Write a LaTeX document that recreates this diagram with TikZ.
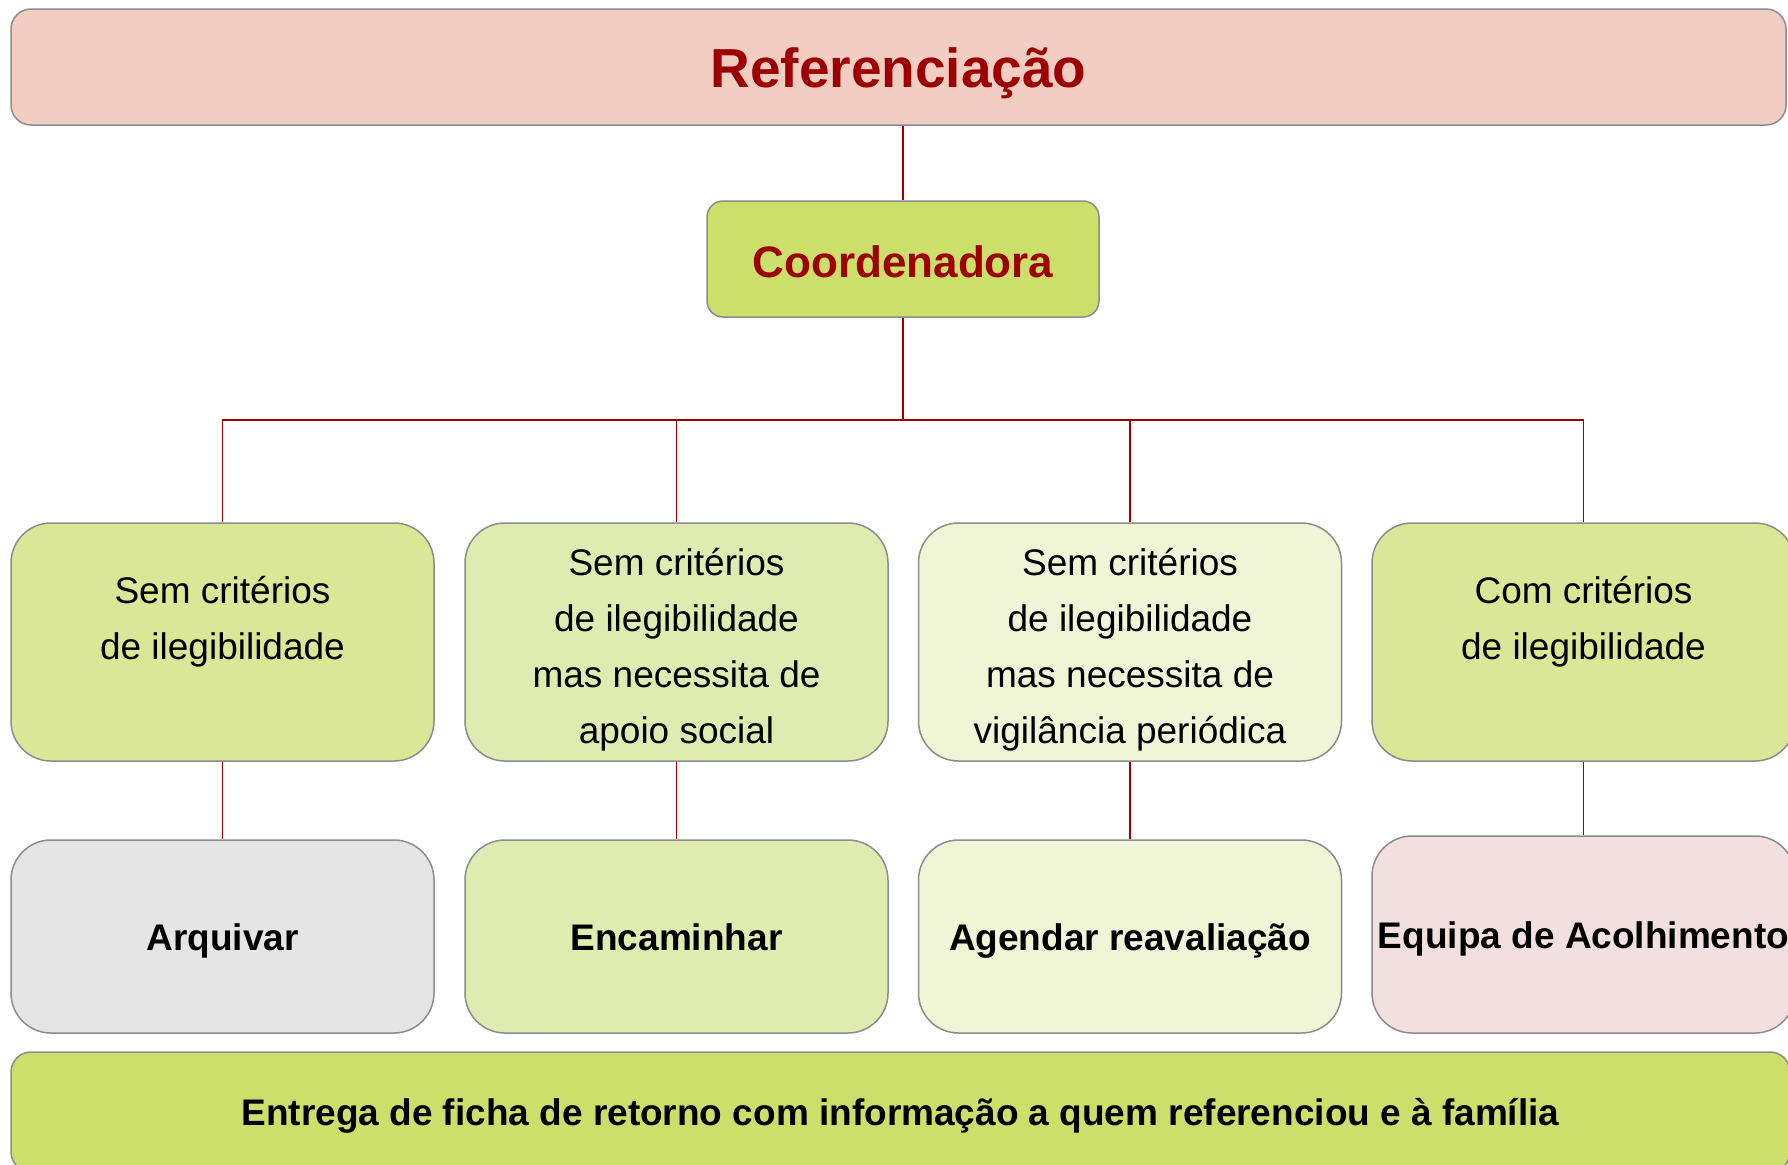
\documentclass[tikz,border=0pt]{standalone}
\usepackage{fontspec}
\setmainfont{Liberation Sans}
\usepackage{tikz}
\usetikzlibrary{positioning}

\definecolor{refpink}{HTML}{F2CEC2}
\definecolor{darkred}{HTML}{9C0000}
\definecolor{coordgreen}{HTML}{CCDF6B}
\definecolor{critgreen}{HTML}{D9E797}
\definecolor{apoiogreen}{HTML}{E0EBB2}
\definecolor{vigigreen}{HTML}{EFF5D6}
\definecolor{arqgray}{HTML}{E5E5E5}
\definecolor{equipink}{HTML}{F2E0E0}
\definecolor{boxgray}{HTML}{8C8C8C}
\newcommand{\toppad}{\rule{0pt}{21.6pt}}
\newcommand{\botpad}{\rule[-4.6pt]{0pt}{4.6pt}}

\begin{document}
\begin{tikzpicture}[x=0.5pt, y=-0.5pt,
box/.style={rectangle, rounded corners=20pt, draw=boxgray, line width=0.75pt, align=center, inner sep=0pt, font=\fontsize{18.5}{28}\selectfont},
crit/.style={box, minimum width=211.5pt, minimum height=119pt},
act/.style={box, minimum width=211.5pt, minimum height=96.5pt, text height=18pt, text depth=3.8pt, font=\fontsize{18.5}{28}\selectfont\bfseries},
link/.style={draw=darkred, line width=0.9pt}
]
\clip (0,0) rectangle (1788,1164);
%Nodes
\node[box, rounded corners=10pt, fill=refpink, minimum width=887.5pt, minimum height=58pt, text height=26pt, text depth=5.2pt,
      font=\fontsize{27.5}{33}\selectfont\bfseries, text=darkred]   (ref)   at (898.5,67)  {Referenciação};
\node[box, rounded corners=8pt, fill=coordgreen, minimum width=196pt, minimum height=58pt, text height=18pt, text depth=0pt,
      font=\fontsize{22}{26}\selectfont\bfseries, text=darkred]     (coord) at (903,259)   {Coordenadora};
\coordinate (bus) at (903,420);

\node[crit, fill=critgreen]  (c1) at (222.5,642)  {\toppad Sem critérios\\de ilegibilidade\\\botpad};
\node[crit, fill=apoiogreen] (c2) at (676.5,642)  {\toppad Sem critérios\\de ilegibilidade\\mas necessita de\\apoio social};
\node[crit, fill=vigigreen]  (c3) at (1130,642)   {\toppad Sem critérios\\de ilegibilidade\\mas necessita de\\vigilância periódica};
\node[crit, fill=critgreen]  (c4) at (1583.5,642) {\toppad Com critérios\\de ilegibilidade\\\botpad};

\node[act, fill=arqgray]     (a1) at (222.5,936.5)  {Arquivar};
\node[act, fill=apoiogreen]  (a2) at (676.5,936.5)  {Encaminhar};
\node[act, fill=vigigreen]   (a3) at (1130,936.5)   {Agendar reavaliação};
\node[act, fill=equipink, minimum height=98.5pt] (a4) at (1583.5,934.5) {Equipa de Acolhimento};

\node[box, fill=coordgreen, rounded corners=10pt, minimum width=889.5pt, minimum height=60pt, text height=17pt, text depth=4pt,
      font=\fontsize{18.5}{28}\selectfont\bfseries] (entrega) at (900.5,1112)
      {Entrega de ficha de retorno com informação a quem referenciou e à família};
%Lines
\draw[link] (coord) -- (coord |- ref.south);
\draw[link] (coord) -- (bus);
\foreach \c in {c1,c2,c3,c4}
  \draw[link] (bus) -| (\c);
\foreach \c/\a in {c1/a1,c2/a2,c3/a3,c4/a4}
  \draw[link] (\c) -- (\a);
\end{tikzpicture}
\end{document}
